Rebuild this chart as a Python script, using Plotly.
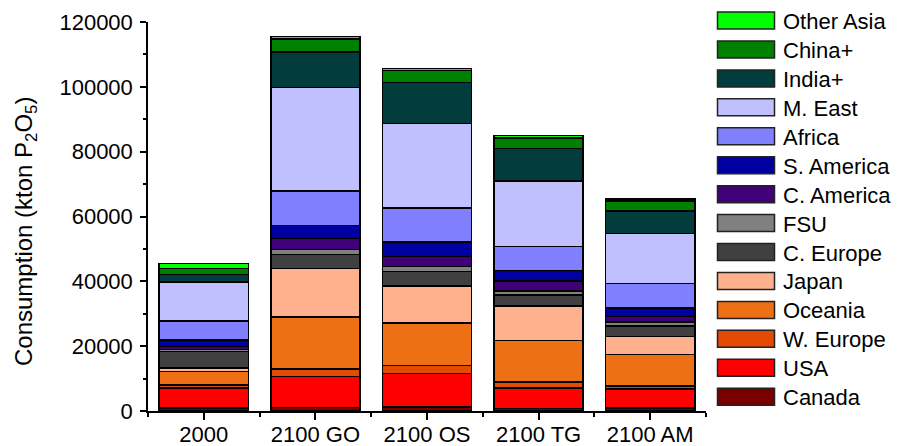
import plotly.graph_objects as go

categories = ["2000", "2100 GO", "2100 OS", "2100 TG", "2100 AM"]

# stacking order bottom -> top
regions = ["Canada", "USA", "W. Europe", "Oceania", "Japan", "C. Europe", "FSU",
           "C. America", "S. America", "Africa", "M. East", "India+", "China+", "Other Asia"]

canada     = [900, 1100, 1300, 700, 1000]
usa        = [6250, 9550, 10250, 6450, 5850]
w_europe   = [900, 2300, 2500, 1800, 800]
oceania    = [4100, 16100, 13100, 12750, 9850]
japan      = [1100, 14900, 11350, 10650, 5550]
c_europe   = [5100, 4300, 4500, 3400, 3100]
fsu        = [700, 1600, 1600, 1200, 1300]
c_america  = [800, 3400, 3100, 3100, 1700]
s_america  = [2000, 3900, 4500, 3300, 2600]
africa     = [5850, 10750, 10350, 7450, 7550]
m_east     = [12150, 31950, 26200, 20100, 15500]
india      = [2300, 10850, 12650, 10150, 6850]
china      = [1800, 4100, 3600, 3100, 3200]
other_asia = [1500, 800, 700, 800, 500]

series = [canada, usa, w_europe, oceania, japan, c_europe, fsu,
          c_america, s_america, africa, m_east, india, china, other_asia]

colors = ["#7A0000", "#FF0000", "#E34A04", "#EE7014", "#FFB08C", "#404040", "#808080",
          "#400078", "#0000A0", "#8080FF", "#C0C0FF", "#033C3C", "#008000", "#00FF00"]

y_ticks = [0, 20000, 40000, 60000, 80000, 100000, 120000]

FONT = "Liberation Sans, Arial, sans-serif"

fig = go.Figure()
xs = list(range(len(categories)))
for name, vals, col in zip(regions, series, colors):
    fig.add_trace(go.Bar(
        x=xs, y=vals, name=name, width=0.8,
        marker=dict(color=col, line=dict(color="#000000", width=1.5)),
        showlegend=False,
    ))

W, H = 897, 446
L, R, T, B = 148, 191, 22, 35
pw, ph = W - L - R, H - T - B


def px(xp):
    return (xp - L) / pw


def py(yp):
    return (H - B - yp) / ph


# custom legend (top -> bottom order)
shapes = []
annotations = []
for i, idx in enumerate(reversed(range(len(regions)))):
    cy = 20.5 + 28.94 * i
    shapes.append(dict(
        type="rect", xref="paper", yref="paper",
        x0=px(717.5), x1=px(774.5), y0=py(cy + 8.5), y1=py(cy - 8.5),
        fillcolor=colors[idx], line=dict(color="#222222", width=1.5),
    ))
    annotations.append(dict(
        xref="paper", yref="paper", x=px(781), y=py(cy + 1),
        text=regions[idx], showarrow=False, xanchor="left", yanchor="middle",
        font=dict(family=FONT, size=22, color="#000000"),
    ))

annotations.append(dict(
    xref="paper", yref="paper", x=px(25), y=py(232),
    text="Consumption (kton P<sub>2</sub>O<sub>5</sub>)", textangle=-90,
    showarrow=False, xanchor="center", yanchor="middle",
    font=dict(family=FONT, size=24, color="#000000"),
))

fig.update_layout(
    width=W, height=H, autosize=False,
    margin=dict(l=L, r=R, t=T, b=B, pad=0, autoexpand=False),
    barmode="stack",
    plot_bgcolor="#FFFFFF", paper_bgcolor="#FFFFFF",
    font=dict(family=FONT, size=22, color="#000000"),
    shapes=shapes, annotations=annotations,
    xaxis=dict(
        range=[-0.5, 4.5], tickmode="array", tickvals=xs, ticktext=categories,
        showgrid=False, zeroline=False, automargin=False,
        showline=True, linecolor="#000000", linewidth=1.5,
        ticks="outside", ticklen=7, tickwidth=1.5, tickcolor="#000000",
        ticklabelstandoff=-4,
        minor=dict(tickmode="linear", tick0=0.5, dtick=1, ticks="outside",
                   ticklen=4, tickwidth=1.5, tickcolor="#000000", showgrid=False),
        tickfont=dict(family=FONT, size=22),
    ),
    yaxis=dict(
        range=[0, 120000], tickmode="array", tickvals=y_ticks,
        ticktext=[str(v) for v in y_ticks],
        showgrid=False, zeroline=False, automargin=False,
        showline=True, linecolor="#000000", linewidth=1.5,
        ticks="outside", ticklen=6, tickwidth=1.5, tickcolor="#000000",
        ticklabelstandoff=3,
        minor=dict(tickmode="linear", tick0=0, dtick=10000, ticks="outside",
                   ticklen=3, tickwidth=1.5, tickcolor="#000000", showgrid=False),
        tickfont=dict(family=FONT, size=22),
    ),
)

fig.write_html(
    "out.html",
    config={"displayModeBar": False},
    post_script="document.body.style.margin='0';document.body.style.overflow='hidden';",
)
